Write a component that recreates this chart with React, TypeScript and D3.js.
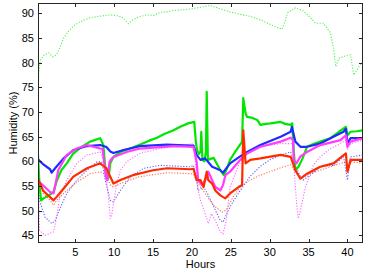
import { useEffect, useRef } from 'react'
import * as d3 from 'd3'

// [hour, humidity %]
const ambientDotted: [number, number][] = [
  [0.2, 72], [0.3, 78], [0.5, 80.5], [1, 81.6], [1.6, 82], [2.1, 81.2], [2.6, 81.6], [3.0, 83],
  [3.5, 85], [4.1, 86.3], [4.8, 87.5], [5.4, 88.1], [6.2, 88.7], [6.9, 89.1], [8, 89.4], [9.5, 89.7],
  [10.4, 89.5], [11, 89.2], [11.8, 87.9], [12.4, 88.7], [13.2, 89.3], [14.2, 89.7], [15.1, 89.6],
  [15.9, 90.2], [16.8, 90.3], [17.6, 90.6], [18.7, 90.7], [19.8, 90.9], [21, 91.2], [22.4, 91.6],
  [23.5, 91], [24.9, 90.3], [26.2, 89.8], [27.5, 89.4], [28.6, 88.8], [29.7, 88.0], [30.7, 87.3],
  [31.6, 86.8], [32.0, 88.5], [32.3, 90.1], [33.3, 91.1], [34.2, 90.6], [34.9, 89.7], [35.9, 88],
  [36.9, 88], [37.8, 86.1], [38.2, 83], [38.5, 79.2], [38.9, 80.9], [39.6, 81.3], [40.4, 81.6],
  [40.8, 77.5], [41.4, 79], [41.95, 80.2],
]

const greenSolid: [number, number][] = [
  [0.2, 61.3], [0.4, 55], [0.6, 52.1], [0.9, 52.5], [1.5, 53], [2.2, 53.8], [2.6, 56], [3.2, 58.2],
  [3.9, 59.6], [4.7, 61.5], [5.6, 62.7], [6.9, 64], [8.2, 64.7], [8.6, 63.3], [8.96, 56.9],
  [9.26, 56.6], [9.5, 59.6], [9.9, 60.9], [10.8, 61.9], [12.4, 62.8], [13.5, 63.5], [14.5, 64.2],
  [15.5, 64.8], [16.5, 65.6], [17.5, 66.2], [18.5, 67], [19.5, 67.7], [20.3, 68], [20.5, 64],
  [20.65, 62.3], [20.9, 61.5], [21.1, 62], [21.2, 66], [21.35, 60.3], [21.6, 60], [21.8, 62],
  [21.9, 74.1], [22.05, 60.3], [22.4, 60.5], [22.8, 60.7], [23.2, 59.5], [23.65, 58.2], [24.1, 57.2],
  [24.5, 58.5], [24.9, 60.3], [25.5, 61.8], [26, 62.95], [26.45, 64], [26.6, 72.8], [26.9, 69.7],
  [27.1, 69], [27.8, 68.8], [28.4, 68.4], [28.8, 67.4], [29.5, 67.6], [30.1, 67.7], [31.4, 68],
  [32.0, 67.6], [32.7, 67.4], [32.9, 67.7], [33.1, 62], [33.3, 58.2], [33.7, 58.9], [34.2, 60.5],
  [34.8, 62.95], [35.6, 63.5], [36.5, 64], [37.8, 64.7], [38.9, 66], [39.8, 67], [40, 65.3],
  [40.4, 66], [41.2, 66.1], [42, 66.3],
]

const blueSolid: [number, number][] = [
  [0.2, 60.4], [0.8, 59.5], [1.75, 58.4], [1.96, 57.7], [2.4, 58.6], [3.5, 60.6], [4.75, 62.3],
  [6.5, 63.1], [8.2, 63.3], [9, 62.9], [9.5, 62], [9.9, 61.7], [11.2, 62.3], [13.3, 63.1],
  [16.8, 63.4], [19.8, 63.2], [20.2, 63.2], [20.6, 61.3], [21.1, 60.3], [21.7, 60.6], [22.6, 58.9],
  [23.65, 58.2], [24, 57.7], [24.9, 59.6], [26.2, 61], [27.1, 61.9], [28.8, 63.3], [31.4, 65],
  [32.7, 66], [32.85, 67], [33.3, 64], [33.95, 62.95], [34.8, 62.95], [36.5, 63.6], [38.2, 65],
  [39.5, 66], [39.8, 66.6], [40, 63.6], [40.4, 64.7], [42, 64.7],
]

const magentaSolid: [number, number][] = [
  [0.2, 56], [0.6, 55.5], [1.75, 53.8], [2.2, 53.5], [2.8, 58.2], [3.9, 61.3], [5.2, 62.6],
  [6.5, 63.3], [8.2, 62.6], [8.5, 62.5], [8.96, 56.6], [9.1, 56.2], [9.4, 59.9], [9.7, 60.6],
  [10.1, 61], [11.6, 61.9], [13.3, 62.6], [17.6, 63.1], [20.2, 62.95], [20.6, 59.9], [20.8, 56.2],
  [21.3, 55.2], [21.7, 56.2], [22.1, 57.9], [22.6, 56.2], [23, 54.8], [23.65, 54.1], [24, 55.2],
  [24.3, 57.2], [24.9, 57.9], [26.2, 60.3], [27.1, 61.6], [28.8, 62.95], [31.4, 64], [32.7, 64.8],
  [33, 64.3], [33.1, 60.3], [33.45, 59.6], [33.95, 61], [34.8, 61.9], [36.5, 63.3], [39.1, 64.3],
  [39.8, 65.3], [40, 62.95], [40.4, 64], [42, 64.7],
]

const redSolid: [number, number][] = [
  [0.2, 56.5], [0.85, 54.1], [1.5, 53.1], [2.2, 52.1], [2.6, 52.8], [3.5, 54.5], [4.75, 56.9],
  [6.5, 58.6], [8.2, 59.6], [9, 58.6], [9.5, 56.9], [9.9, 55.5], [10.8, 56.2], [12.4, 57.2],
  [15, 58.2], [16.8, 58.6], [19.8, 58.4], [20.2, 58.5], [20.6, 56.2], [21.1, 56.2], [21.5, 54.8],
  [21.9, 57.9], [22.1, 56.2], [22.6, 55.5], [23, 54.1], [23.65, 53.1], [24.3, 52.5], [24.9, 53.5],
  [26, 54.8], [26.45, 55.2], [26.6, 66.3], [26.9, 59.6], [27.5, 60.3], [28.8, 60.6], [31.4, 61.3],
  [32.7, 60.9], [33, 59.6], [33.3, 58.2], [33.95, 56.5], [34.8, 57.5], [36.5, 58.9], [38.2, 59.6],
  [39.8, 61.6], [40, 57.9], [40.4, 60.3], [42, 60.3],
]

const blueDotted: [number, number][] = [
  [0.2, 56], [0.4, 52.1], [1.1, 48.7], [1.96, 47.4], [2.4, 48], [3, 50.4], [3.9, 53.5], [5.2, 56.2],
  [6.5, 58.2], [7.8, 59.9], [8.4, 59.9], [8.8, 56.5], [9.5, 52.1], [9.9, 51.8], [10.8, 54.1],
  [12.1, 56.9], [13.8, 58.6], [15.9, 59.2], [19.8, 58.9], [20.2, 59.2], [20.8, 54.1], [21.5, 54.8],
  [22, 53.5], [22.8, 50.8], [23.65, 48], [24, 47.7], [24.9, 50.8], [26.2, 54.1], [27.5, 57],
  [28.8, 59], [30, 60.3], [31.4, 61.3], [32.7, 61.9], [33.3, 59.2], [33.95, 56.9], [34.3, 56.2],
  [35.2, 57.2], [36.5, 58.9], [38.2, 59.2], [39.5, 60.9], [40, 56.2], [40.4, 60.9], [42, 61.3],
]

const magentaDotted: [number, number][] = [
  [0.2, 57], [0.4, 46], [1.1, 45], [2.2, 45.7], [2.6, 48.7], [3, 52.8], [3.9, 56.2], [5.2, 59.6],
  [6.5, 61.3], [8.2, 61.9], [8.8, 59.6], [9.25, 52.8], [9.5, 48.4], [9.7, 49.4], [10.3, 55.2],
  [10.8, 58.2], [11.6, 59.9], [13.3, 61.6], [15.9, 62.6], [19.8, 63.5], [20.2, 63.6], [20.8, 54.1],
  [21.1, 52.1], [21.7, 49.4], [22.1, 47.4], [22.5, 49.4], [23, 48], [23.65, 45.7], [24, 45.3],
  [24.4, 48], [24.9, 54.8], [26, 59.2], [27.1, 61.9], [28.8, 62.95], [31.4, 63.6], [33, 63.6],
  [33.2, 56.9], [33.5, 50.8], [33.7, 48.4], [33.95, 50.1], [34.6, 54.8], [35.6, 59.2], [36.5, 60.9],
  [37.8, 62.6], [39.1, 63.6], [39.8, 64.3], [40, 62.3], [40.4, 63.6], [42, 64.3],
]

const salmonDotted: [number, number][] = [
  [0.2, 56.2], [0.85, 53.5], [1.75, 52.1], [2.2, 51.1], [2.6, 52.1], [3.5, 53.5], [5.2, 55.8],
  [6.9, 57.5], [8.2, 57.9], [9, 57.2], [9.5, 55.2], [9.9, 54.8], [10.8, 55.5], [13.3, 56.9],
  [16.8, 57.7], [19.8, 57.5], [20.2, 57.4], [20.8, 55.5], [21.7, 53.5], [22.3, 52.1], [23, 50.8],
  [23.9, 49.7], [24.4, 50.1], [25.3, 52.8], [26.2, 54.8], [27.5, 56.2], [28.8, 57.2], [31.4, 58.7],
  [32.7, 59.3], [33.3, 57.9], [33.95, 56.5], [35.2, 57.5], [37.8, 58.9], [39.8, 59.9], [40, 58.2],
  [40.4, 59.9], [42, 59.6],
]

const xTicks = [5, 10, 15, 20, 25, 30, 35, 40]
const yTicks = [45, 50, 55, 60, 65, 70, 75, 80, 85, 90]

export default function App() {
  const svgRef = useRef<SVGSVGElement>(null)

  useEffect(() => {
    document.body.style.margin = '0'
    if (!svgRef.current) return

    const width = 374
    const height = 276
    const margin = { top: 3, right: 11, bottom: 33, left: 38 }
    const x0 = margin.left
    const x1 = width - margin.right
    const y0 = height - margin.bottom
    const y1 = margin.top

    const svg = d3.select(svgRef.current)
    svg.selectAll('*').remove()
    svg.attr('width', width).attr('height', height)

    const xScale = d3.scaleLinear().domain([0.2, 42]).range([x0, x1])
    const yScale = d3.scaleLinear().domain([43.45, 92.1]).range([y0, y1])

    svg.append('defs').append('clipPath').attr('id', 'plot-clip')
      .append('rect')
      .attr('x', x0).attr('y', y1).attr('width', x1 - x0).attr('height', y0 - y1)

    const line = d3.line<[number, number]>()
      .x(d => xScale(d[0]))
      .y(d => yScale(d[1]))

    const plot = svg.append('g').attr('clip-path', 'url(#plot-clip)')

    const dotted = [
      { data: salmonDotted, color: '#ff6e4a' },
      { data: blueDotted, color: '#5c5cff' },
      { data: magentaDotted, color: '#ff6aff' },
      { data: ambientDotted, color: '#55ee55' },
    ]
    dotted.forEach(s => {
      plot.append('path')
        .datum(s.data)
        .attr('fill', 'none')
        .attr('stroke', s.color)
        .attr('stroke-width', 1.1)
        .attr('stroke-dasharray', '1.2 1.6')
        .attr('d', line)
    })

    const solid = [
      { data: greenSolid, color: '#00e600' },
      { data: blueSolid, color: '#1f2cff' },
      { data: magentaSolid, color: '#ff3cff' },
      { data: redSolid, color: '#ff2a00' },
    ]
    solid.forEach(s => {
      plot.append('path')
        .datum(s.data)
        .attr('fill', 'none')
        .attr('stroke', s.color)
        .attr('stroke-width', 2.2)
        .attr('stroke-linejoin', 'round')
        .attr('d', line)
    })

    // frame and ticks (inward on all four sides)
    const axisColor = '#262626'
    const tick = 4
    const font = '"Liberation Sans", Arial, sans-serif'

    svg.append('rect')
      .attr('x', x0 + 0.5).attr('y', y1 + 0.5)
      .attr('width', x1 - x0 - 1).attr('height', y0 - y1 - 1)
      .attr('fill', 'none').attr('stroke', axisColor).attr('stroke-width', 1)

    const xt = svg.append('g')
    xTicks.forEach(t => {
      const px = Math.round(xScale(t)) + 0.5
      xt.append('line').attr('x1', px).attr('x2', px).attr('y1', y0).attr('y2', y0 - tick)
        .attr('stroke', axisColor)
      xt.append('line').attr('x1', px).attr('x2', px).attr('y1', y1).attr('y2', y1 + tick)
        .attr('stroke', axisColor)
      xt.append('text').attr('x', xScale(t)).attr('y', y0 + 13)
        .attr('text-anchor', 'middle')
        .style('font-family', font).style('font-size', '11px').attr('fill', '#000')
        .text(t)
    })

    const yt = svg.append('g')
    yTicks.forEach(t => {
      const py = Math.round(yScale(t)) + 0.5
      yt.append('line').attr('x1', x0).attr('x2', x0 + tick).attr('y1', py).attr('y2', py)
        .attr('stroke', axisColor)
      yt.append('line').attr('x1', x1).attr('x2', x1 - tick).attr('y1', py).attr('y2', py)
        .attr('stroke', axisColor)
      yt.append('text').attr('x', x0 - 4).attr('y', yScale(t) + 4)
        .attr('text-anchor', 'end')
        .style('font-family', font).style('font-size', '11px').attr('fill', '#000')
        .text(t)
    })

    svg.append('text')
      .attr('x', (x0 + x1) / 2).attr('y', 268)
      .attr('text-anchor', 'middle')
      .style('font-family', font).style('font-size', '11px')
      .text('Hours')

    svg.append('text')
      .attr('transform', `translate(17, 123) rotate(-90)`)
      .attr('text-anchor', 'middle')
      .style('font-family', font).style('font-size', '11px')
      .text('Humidity (%)')
  }, [])

  return <svg ref={svgRef} style={{ display: 'block' }}></svg>
}
